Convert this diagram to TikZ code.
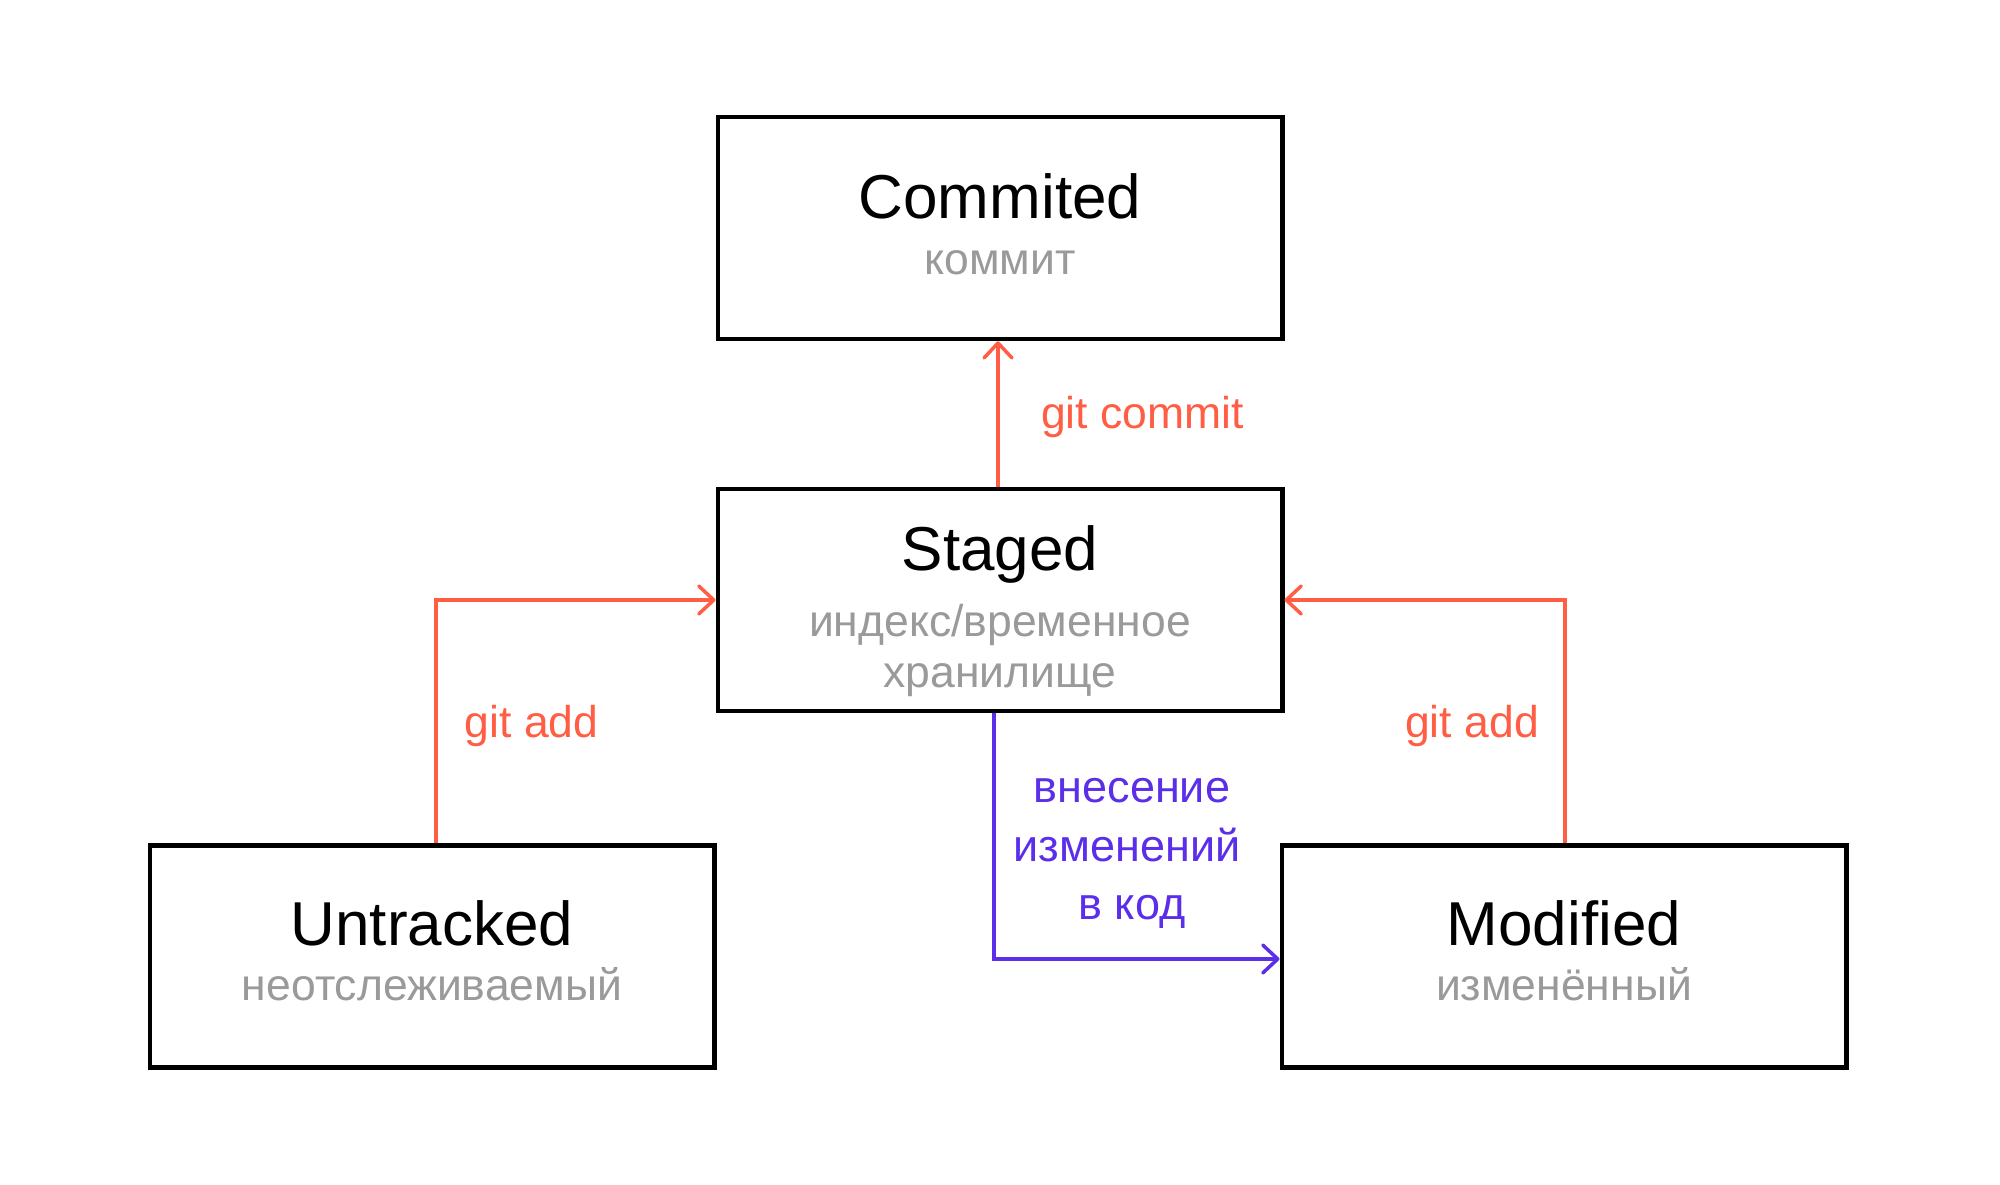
\documentclass[tikz,border=0pt]{standalone}
\usepackage{fontspec}
\setmainfont{Liberation Sans}
\usetikzlibrary{arrows.meta,positioning}
\definecolor{orng}{HTML}{FF5E45}
\definecolor{purp}{HTML}{5B2EEA}
\definecolor{grayt}{HTML}{9A9A9A}
\begin{document}
\begin{tikzpicture}[x=1pt,y=-1pt,
  box/.style={draw=black,line width=4.5pt,minimum width=564.5pt,minimum height=222pt,inner sep=0pt,fill=white},
  ttl/.style={anchor=base,inner sep=0pt,font=\fontsize{62}{72}\selectfont,text=black},
  sub/.style={anchor=base,inner sep=0pt,font=\fontsize{44.5}{50}\selectfont,text=grayt},
  lbl/.style={anchor=base west,inner sep=0pt,font=\fontsize{44.5}{50}\selectfont,text=orng},
  plbl/.style={anchor=base,inner sep=0pt,font=\fontsize{45}{50}\selectfont,text=purp},
  oarr/.style={draw=orng,line width=3.5pt,-{Straight Barb[length=15pt,width=28pt,round]}},
  parr/.style={draw=purp,line width=3.5pt,-{Straight Barb[length=15pt,width=28pt,round]}}]
\useasboundingbox[fill=white] (0,0) rectangle (2000,1185);

\node[box] (com) at (1000,228) {};
\node[box] (stg) at (1000,600) {};
\node[box] (unt) at (432,956.5) {};
\node[box] (mod) at (1564,956.5) {};

\node[ttl] (comt) at (1000,219) {Commited};
\node[sub] (coms) at (1000,274) {коммит};
\node[ttl] (stgt) at (1000,570.5) {Staged};
\node[sub] (stgs1) at (1000,636) {индекс/временное};
\node[sub] (stgs2) at (1000,687) {хранилище};
\node[ttl] (untt) at (432,945) {Untracked};
\node[sub] (unts) at (432,1000.5) {неотслеживаемый};
\node[ttl] (modt) at (1564,945) {Modified};
\node[sub] (mods) at (1564,1000.5) {изменённый};

\coordinate (cx) at (998,0);
\coordinate (lx) at (436,0);
\coordinate (rx) at (1565,0);
\coordinate (px) at (994,0);
\coordinate (py) at (0,959);

\draw[oarr] (stg.north -| cx) -- (com.south -| cx);
\draw[oarr] (unt.north -| lx) |- (stg.west);
\draw[oarr] (mod.north -| rx) |- (stg.east);
\draw[parr] (stg.south -| px) |- (mod.west |- py);

\node[lbl] (lcom) at (1041,428) {git commit};
\node[lbl] (ladd1) at (464.5,737.5) {git add};
\node[lbl] (ladd2) at (1405,737.5) {git add};
\node[plbl] (p1) at (1132,802) {внесение};
\node[plbl] (p2) at (1127,861) {изменений};
\node[plbl] (p3) at (1132,919) {в код};
\end{tikzpicture}
\end{document}
